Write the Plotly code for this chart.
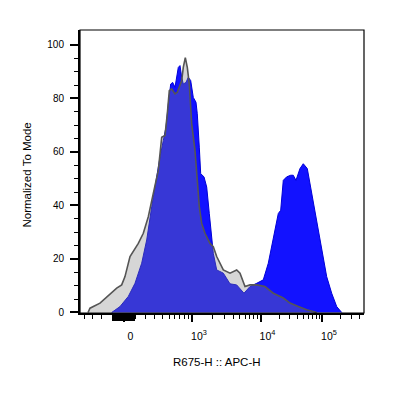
import numpy as np
import plotly.graph_objects as go

# ---- data: histogram channel (0-1000 display channels) and % of mode ----
blue_ch = [111.6, 140.8, 170.1, 193.7, 217.2, 234.9, 252.5, 267.6, 281.7, 293.3, 302.8, 310.9,
           319.4, 326.4, 334.5, 346.1, 352.1, 358.1, 363.7, 373.2, 381.3, 389.8, 398.9, 408.4,
           413.0, 420.1, 425.0, 436.6, 446.1, 455.3, 463.7, 469.4, 481.3, 492.9, 504.6, 528.2,
           551.7, 577.4, 598.6, 622.2, 645.4, 663.0, 680.6, 698.2, 706.7, 715.8, 727.8, 741.9,
           751.0, 760.5, 774.6, 786.2, 800.3, 809.8, 821.4, 839.1, 856.7, 868.6, 886.2, 903.9, 921.5]
blue_pct = [0.0, 2.2, 6.0, 10.9, 18.4, 27.1, 39.5, 49.4, 58.1, 64.3, 69.3, 78.0,
            85.4, 86.0, 84.2, 91.6, 92.3, 87.9, 85.4, 86.0, 87.9, 86.7, 80.4, 78.6,
            74.3, 61.8, 51.9, 50.7, 46.9, 37.0, 28.3, 22.1, 15.9, 15.3, 14.7, 10.7,
            10.3, 7.2, 9.7, 10.9, 12.2, 18.4, 27.1, 37.0, 38.2, 49.4, 50.7, 51.3,
            51.3, 49.4, 53.8, 55.6, 53.8, 48.2, 40.7, 30.8, 20.9, 13.4, 7.2, 2.2, 0.0]

grey_ch = [28.2, 35.2, 70.4, 99.6, 129.2, 146.8, 158.4, 176.1, 187.7, 205.3, 222.9, 240.5,
           258.1, 275.7, 287.7, 299.3, 307.4, 314.4, 322.9, 334.5, 342.6, 352.1, 358.1, 363.7,
           370.8, 377.8, 384.8, 393.3, 404.9, 413.0, 420.1, 428.5, 440.1, 457.7, 469.4, 481.3,
           504.6, 528.2, 551.7, 563.4, 581.0, 598.6, 622.2, 651.4, 680.6, 715.8, 739.4, 768.6,
           798.2, 833.4]
grey_pct = [0.0, 1.6, 3.5, 6.2, 9.1, 10.3, 13.4, 20.9, 22.7, 25.8, 29.6, 35.8,
            44.5, 53.1, 65.5, 66.2, 74.3, 82.9, 83.6, 81.7, 82.3, 85.4, 86.7, 91.6,
            95.3, 91.6, 85.4, 70.5, 60.6, 49.4, 39.5, 33.3, 29.6, 25.8, 24.6, 20.9,
            15.9, 14.7, 15.9, 14.7, 9.7, 10.3, 10.3, 9.7, 7.2, 5.4, 3.5, 2.2,
            1.0, 0.0]

# ---- biexponential-like display scale (value -> display channel) ----
CH0, CH3, CH4, CH5 = 153.2, 394.4, 635.6, 852.1
LIN_W = 310.0


def to_channel(v):
    s = 1 if v >= 0 else -1
    a = abs(v)
    if a <= 1e3:
        return CH0 + s * (CH3 - CH0) * np.arcsinh(a / LIN_W) / np.arcsinh(1e3 / LIN_W)
    if a <= 1e4:
        return CH3 + (CH4 - CH3) * np.log10(a / 1e3)
    return CH4 + (CH5 - CH4) * np.log10(a / 1e4)


major_vals = [0, 1e3, 1e4, 1e5]
major_text = ["0", "10<sup>3</sup>", "10<sup>4</sup>", "10<sup>5</sup>"]
dense_vals = [k * 10 for k in range(-9, 10) if k != 0]
minor_vals = ([-k * 100 for k in range(1, 5)] + [k * 100 for k in range(1, 10)]
              + [k * 1e3 for k in range(2, 10)] + [k * 1e4 for k in range(2, 10)]
              + [k * 1e5 for k in range(2, 5)])

tickvals = [to_channel(v) for v in major_vals]
densevals = [to_channel(v) for v in dense_vals]
minorvals = [to_channel(v) for v in minor_vals]

fig = go.Figure()
fig.add_trace(go.Scatter(x=blue_ch, y=blue_pct, mode="lines", fill="tozeroy",
                         line=dict(color="rgb(0,0,215)", width=1),
                         fillcolor="rgb(18,18,255)", hoverinfo="skip"))
fig.add_trace(go.Scatter(x=grey_ch, y=grey_pct, mode="lines", fill="tozeroy",
                         line=dict(color="rgb(85,85,85)", width=1.6),
                         fillcolor="rgba(130,130,130,0.33)", hoverinfo="skip"))
# invisible trace so the overlaid tick-only axis (dense ticks around zero) is drawn
fig.add_trace(go.Scatter(x=[0], y=[None], xaxis="x2", mode="lines",
                         showlegend=False, hoverinfo="skip"))

# page body has an 8px default margin, so the figure is 8px smaller with shifted margins
fig.update_layout(
    width=395, height=388,
    margin=dict(l=72, r=39, t=22, b=83),
    paper_bgcolor="white", plot_bgcolor="white",
    showlegend=False,
    font=dict(family="Liberation Sans, Arial, sans-serif", color="black"),
    xaxis=dict(range=[0, 1000], showgrid=False, zeroline=False,
               showline=True, linecolor="black", linewidth=2,
               tickmode="array", tickvals=tickvals, ticktext=major_text,
               ticks="outside", ticklen=7, tickwidth=1.5, tickcolor="black",
               tickfont=dict(size=10.5, color="black"),
               ticklabelshift=7, ticklabelstandoff=5,
               minor=dict(tickmode="array", tickvals=minorvals, ticks="outside",
                          ticklen=3.5, tickwidth=1.2, tickcolor="black", showgrid=False)),
    xaxis2=dict(range=[0, 1000], overlaying="x", side="bottom", anchor="y",
                showgrid=False, zeroline=False, showline=False,
                tickmode="array", tickvals=densevals, showticklabels=False,
                ticks="outside", ticklen=7, tickwidth=1.8, tickcolor="black"),
    yaxis=dict(range=[-0.2, 105.6], showgrid=False, zeroline=False,
               showline=True, linecolor="black", linewidth=2,
               tickmode="array", tickvals=[0, 20, 40, 60, 80, 100],
               ticks="outside", ticklen=8, tickwidth=1.8, tickcolor="black",
               tickfont=dict(size=10, color="black"), ticklabelstandoff=4,
               minor=dict(tickmode="array", tickvals=[5, 10, 15, 25, 30, 35, 45, 50, 55, 65, 70, 75, 85, 90, 95],
                          ticks="outside", ticklen=4, tickwidth=1.2, tickcolor="black", showgrid=False)),
    shapes=[dict(type="rect", xref="paper", yref="paper", x0=0, y0=0, x1=1, y1=1,
                 line=dict(color="black", width=1.2), layer="above")],
    annotations=[
        dict(text="R675-H :: APC-H", xref="paper", yref="paper", x=0.484, y=-0.172,
             xanchor="center", yanchor="middle", showarrow=False,
             font=dict(size=11.5, color="black")),
        dict(text="Normalized To Mode", xref="paper", yref="paper", x=-0.188, y=0.488,
             xanchor="center", yanchor="middle", showarrow=False, textangle=-90,
             font=dict(size=11.5, color="black")),
    ],
)

fig.write_html("out.html")
